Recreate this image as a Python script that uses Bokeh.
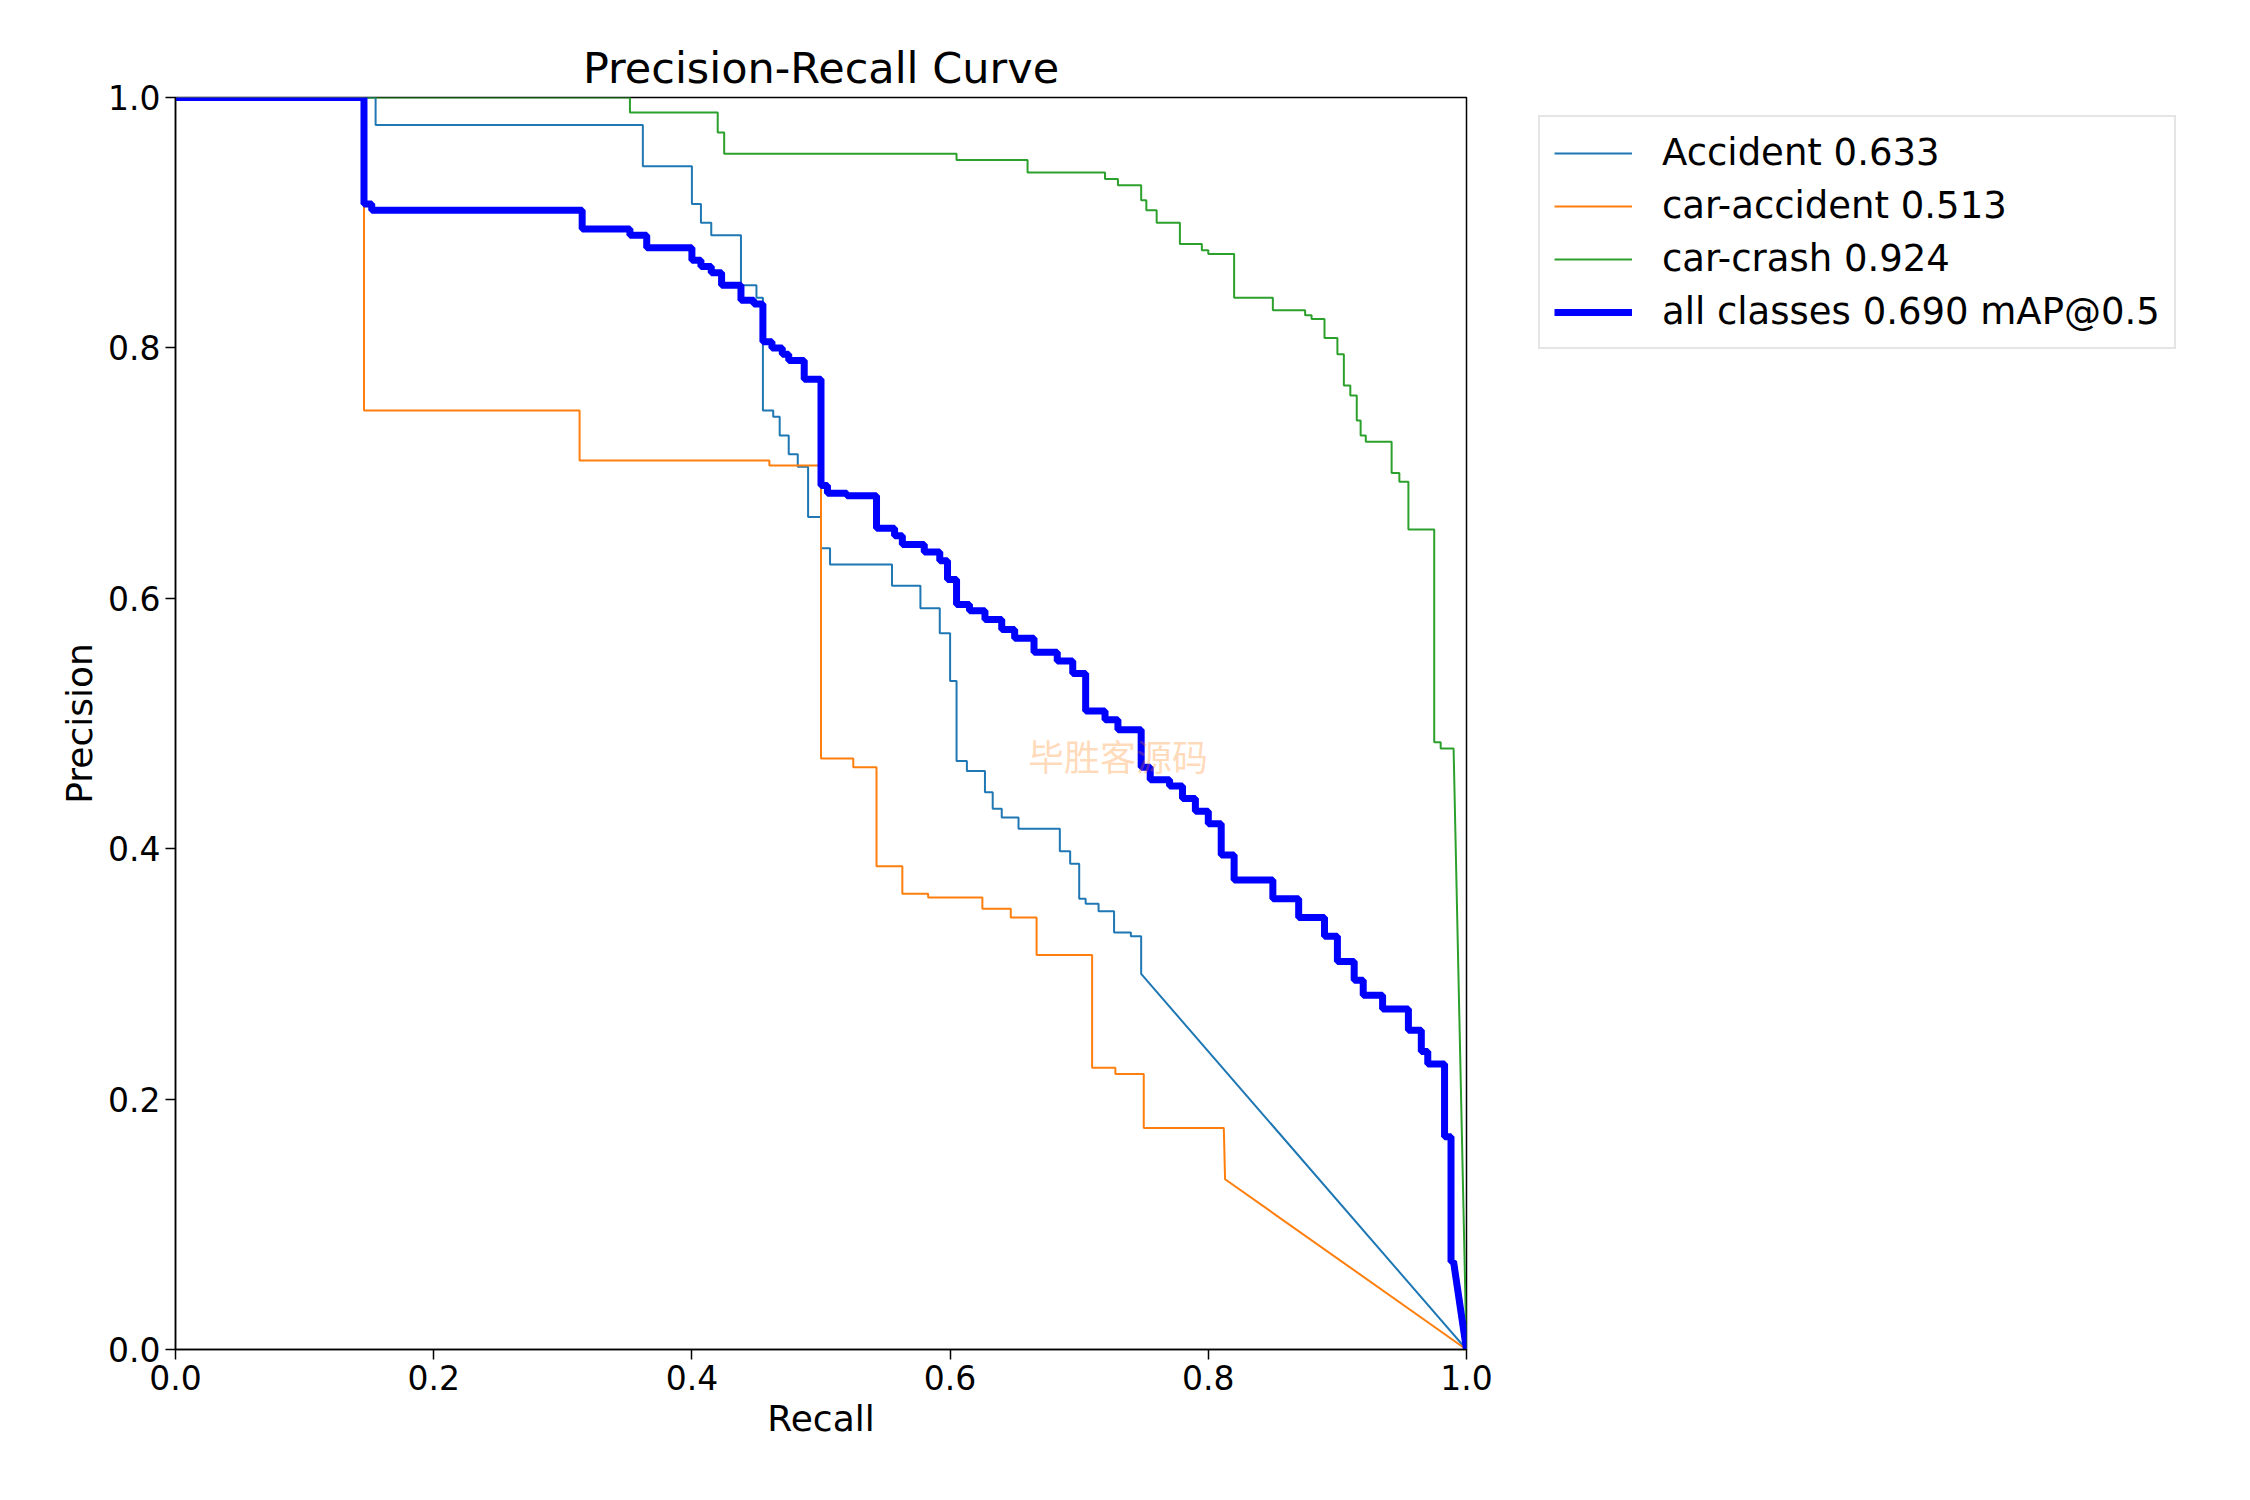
from bokeh.plotting import figure
from bokeh.models import Legend, LegendItem, Range1d, FixedTicker, Label, NumeralTickFormatter
from bokeh.embed import file_html
from bokeh.resources import INLINE

# step curves: (recall where level ends, precision level)
acc_x = [0.155, 0.362, 0.40, 0.407, 0.415, 0.438, 0.45, 0.455, 0.463, 0.468, 0.475, 0.482, 0.49, 0.50,
         0.507, 0.555, 0.577, 0.592, 0.60, 0.605, 0.613, 0.627, 0.633, 0.64, 0.653, 0.685, 0.693, 0.70,
         0.705, 0.715, 0.727, 0.74, 0.748]
acc_y = [1.0, 0.978, 0.945, 0.915, 0.90, 0.89, 0.85, 0.84, 0.75, 0.745, 0.73, 0.715, 0.705, 0.665,
         0.64, 0.627, 0.61, 0.592, 0.572, 0.534, 0.47, 0.462, 0.445, 0.432, 0.425, 0.416, 0.398, 0.388,
         0.36, 0.356, 0.35, 0.333, 0.33]
acc_tail = [(0.748, 0.30), (1.0, 0.0)]

car_x = [0.146, 0.313, 0.46, 0.50, 0.525, 0.543, 0.563, 0.583, 0.625, 0.647, 0.667, 0.71, 0.728, 0.75, 0.812]
car_y = [1.0, 0.75, 0.71, 0.706, 0.472, 0.465, 0.386, 0.364, 0.361, 0.352, 0.345, 0.315, 0.225, 0.22, 0.177]
car_tail = [(0.813, 0.136), (1.0, 0.0)]

crash_x = [0.352, 0.42, 0.425, 0.605, 0.66, 0.72, 0.73, 0.748, 0.752, 0.76, 0.778, 0.795, 0.80, 0.82,
           0.85, 0.875, 0.88, 0.89, 0.90, 0.905, 0.91, 0.915, 0.918, 0.922, 0.942, 0.948, 0.955, 0.975,
           0.98, 0.99]
crash_y = [1.0, 0.988, 0.972, 0.955, 0.95, 0.94, 0.935, 0.93, 0.918, 0.91, 0.90, 0.883, 0.878, 0.875,
           0.84, 0.83, 0.826, 0.823, 0.808, 0.795, 0.77, 0.762, 0.742, 0.73, 0.725, 0.70, 0.693, 0.655,
           0.485, 0.48]
crash_tail = [(1.0, 0.0)]

all_x = [0.146, 0.152, 0.315, 0.352, 0.365, 0.40, 0.407, 0.415, 0.423, 0.438, 0.448, 0.455, 0.462, 0.47,
         0.475, 0.487, 0.50, 0.505, 0.52, 0.543, 0.557, 0.563, 0.58, 0.592, 0.598, 0.605, 0.615, 0.627,
         0.64, 0.65, 0.665, 0.683, 0.695, 0.705, 0.72, 0.73, 0.748, 0.755, 0.77, 0.78, 0.79, 0.80, 0.81,
         0.82, 0.85, 0.87, 0.89, 0.90, 0.913, 0.92, 0.935, 0.955, 0.965, 0.97, 0.983, 0.988, 0.99]
all_y = [1.0, 0.915, 0.91, 0.895, 0.89, 0.88, 0.87, 0.865, 0.86, 0.85, 0.838, 0.835, 0.805, 0.80,
         0.795, 0.79, 0.775, 0.69, 0.684, 0.682, 0.656, 0.65, 0.643, 0.637, 0.63, 0.615, 0.595, 0.59,
         0.583, 0.575, 0.568, 0.557, 0.55, 0.54, 0.51, 0.503, 0.495, 0.465, 0.455, 0.45, 0.44, 0.43, 0.42,
         0.395, 0.375, 0.36, 0.345, 0.33, 0.31, 0.295, 0.283, 0.272, 0.255, 0.238, 0.228, 0.17, 0.07]
all_tail = [(1.0, 0.0)]

labels = ["Accident 0.633", "car-accident 0.513", "car-crash 0.924", "all classes 0.690 mAP@0.5"]


def stairs(xs, ys, tail):
    out_x, out_y = [0.0], [ys[0]]
    for i, (x, y) in enumerate(zip(xs, ys)):
        out_x.append(x); out_y.append(y)
        if i + 1 < len(ys):
            out_x.append(x); out_y.append(ys[i + 1])
    for x, y in tail:
        out_x.append(x); out_y.append(y)
    return out_x, out_y


FONT = "DejaVu Sans"
p = figure(width=2220, height=1460, output_backend="svg", toolbar_location=None,
           x_range=Range1d(0, 1), y_range=Range1d(0, 1),
           frame_width=1291, frame_height=1252,
           min_border_left=175, min_border_right=20, min_border_top=97, min_border_bottom=105,
           title="Precision-Recall Curve", x_axis_label="Recall", y_axis_label="Precision")
p.title.align = "center"
p.title.text_font = FONT
p.title.text_font_size = "43px"
p.title.text_font_style = "normal"
p.title.text_color = "black"
p.grid.visible = False
p.outline_line_color = "black"
p.outline_line_width = 1.5
for ax in (p.xaxis, p.yaxis):
    ax.ticker = FixedTicker(ticks=[0, 0.2, 0.4, 0.6, 0.8, 1.0])
    ax.formatter = NumeralTickFormatter(format="0.0")
    ax.major_label_text_font = FONT
    ax.major_label_text_font_size = "33px"
    ax.major_label_text_color = "black"
    ax.axis_label_text_font = FONT
    ax.axis_label_text_font_size = "36px"
    ax.axis_label_text_font_style = "normal"
    ax.axis_label_text_color = "black"
    ax.minor_tick_line_color = None
    ax.major_tick_out = 10
    ax.major_tick_in = 0
    ax.axis_line_width = 1.5
    ax.major_tick_line_width = 1.5

wm = Label(x=0.73, y=0.475, text="毕胜客源码", text_font="Noto Sans CJK SC", text_font_size="36px",
           text_color="#ff7f0e", text_alpha=0.3, text_align="center", text_baseline="middle")
p.add_layout(wm)

series = [(acc_x, acc_y, acc_tail, "#1f77b4", 2), (car_x, car_y, car_tail, "#ff7f0e", 2),
          (crash_x, crash_y, crash_tail, "#2ca02c", 2), (all_x, all_y, all_tail, "blue", 7)]
items = []
for (xs, ys, tail, c, w), lab in zip(series, labels):
    sx, sy = stairs(xs, ys, tail)
    r = p.line(sx, sy, line_color=c, line_width=w)
    items.append(LegendItem(label=lab, renderers=[r]))

leg = Legend(items=items, location=(72, 1000), label_text_font=FONT, label_text_font_size="37px",
             label_text_color="black",
             glyph_width=78, label_standoff=30, spacing=10, padding=14, margin=0,
             border_line_color="#cccccc", border_line_width=2, background_fill_alpha=1.0)
p.add_layout(leg, "right")

open("out.html", "w").write(file_html(p, INLINE))
